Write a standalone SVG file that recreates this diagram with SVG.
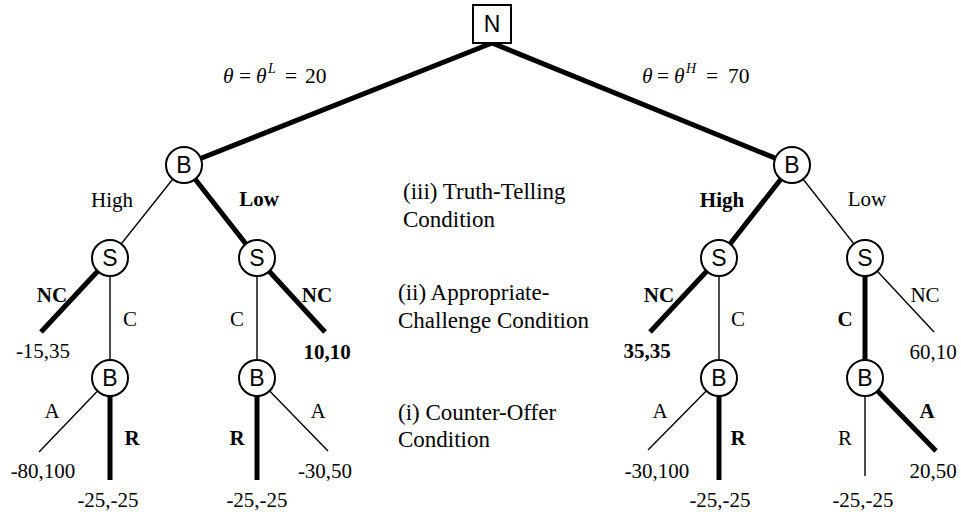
<svg xmlns="http://www.w3.org/2000/svg" width="961" height="512" viewBox="0 0 961 512">
<style>
.thick{stroke:#000;stroke-width:5;fill:none;stroke-linecap:butt}
.thin{stroke:#000;stroke-width:1.4;fill:none}
.node{fill:#fff;stroke:#000;stroke-width:2}
.nl{font-family:"Liberation Sans",Arial,sans-serif;font-size:23px;text-anchor:middle;fill:#000}
.lb{font-family:"Liberation Serif","Times New Roman",serif;font-size:21px;text-anchor:middle;fill:#000}
.b{font-weight:bold}
.cond{font-family:"Liberation Serif","Times New Roman",serif;font-size:23px;fill:#000}
.th{font-family:"Liberation Serif","Times New Roman",serif;font-size:21.5px;fill:#000}
</style>
<rect width="961" height="512" fill="#fff"/>
<g id="connectors">
<line class="thick" x1="492" y1="43" x2="184" y2="165"/>
<line class="thick" x1="492" y1="43" x2="792" y2="165"/>
<line class="thin" x1="184" y1="165" x2="110" y2="258"/>
<line class="thick" x1="184" y1="165" x2="257" y2="258"/>
<line class="thick" x1="792" y1="165" x2="719" y2="258"/>
<line class="thin" x1="792" y1="165" x2="865" y2="258"/>
<line class="thick" x1="110" y1="258" x2="41" y2="332"/>
<line class="thin" x1="110" y1="258" x2="110" y2="378"/>
<line class="thin" x1="257" y1="258" x2="257" y2="378"/>
<line class="thick" x1="257" y1="258" x2="325" y2="332"/>
<line class="thick" x1="719" y1="258" x2="650" y2="332"/>
<line class="thin" x1="719" y1="258" x2="719" y2="378"/>
<line class="thick" x1="865" y1="258" x2="865" y2="378"/>
<line class="thin" x1="865" y1="258" x2="934" y2="332"/>
<line class="thin" x1="110" y1="378" x2="39" y2="452"/>
<line class="thick" x1="110" y1="378" x2="110" y2="480"/>
<line class="thick" x1="257" y1="378" x2="257" y2="480"/>
<line class="thin" x1="257" y1="378" x2="328" y2="451"/>
<line class="thin" x1="719" y1="378" x2="648" y2="450"/>
<line class="thick" x1="719" y1="378" x2="719" y2="480"/>
<line class="thin" x1="865" y1="378" x2="865" y2="476"/>
<line class="thick" x1="865" y1="378" x2="936" y2="451"/>
</g>
<g id="N"><rect class="node" x="473" y="5" width="38" height="38"/><text class="nl" x="492" y="32">N</text></g>
<g id="B1"><circle class="node" cx="184" cy="165" r="18"/><text class="nl" x="184" y="173">B</text></g>
<g id="B2"><circle class="node" cx="792" cy="165" r="18"/><text class="nl" x="792" y="173">B</text></g>
<g id="S1"><circle class="node" cx="110" cy="258" r="18"/><text class="nl" x="110" y="266">S</text></g>
<g id="S2"><circle class="node" cx="257" cy="258" r="18"/><text class="nl" x="257" y="266">S</text></g>
<g id="S3"><circle class="node" cx="719" cy="258" r="18"/><text class="nl" x="719" y="266">S</text></g>
<g id="S4"><circle class="node" cx="865" cy="258" r="18"/><text class="nl" x="865" y="266">S</text></g>
<g id="B3"><circle class="node" cx="110" cy="378" r="18"/><text class="nl" x="110" y="386">B</text></g>
<g id="B4"><circle class="node" cx="257" cy="378" r="18"/><text class="nl" x="257" y="386">B</text></g>
<g id="B5"><circle class="node" cx="719" cy="378" r="18"/><text class="nl" x="719" y="386">B</text></g>
<g id="B6"><circle class="node" cx="865" cy="378" r="18"/><text class="nl" x="865" y="386">B</text></g>
<g id="theta-labels">
<text class="th" y="83"><tspan x="223" font-style="italic">θ</tspan><tspan x="239">=</tspan><tspan x="256" font-style="italic">θ</tspan><tspan x="268" y="73" font-size="14" font-style="italic">L</tspan><tspan x="285" y="83">=</tspan><tspan x="305">20</tspan></text>
<text class="th" y="83"><tspan x="642" font-style="italic">θ</tspan><tspan x="657">=</tspan><tspan x="674" font-style="italic">θ</tspan><tspan x="686" y="73" font-size="14" font-style="italic">H</tspan><tspan x="706" y="83">=</tspan><tspan x="728">70</tspan></text>
</g>
<g id="edge-labels">
<text class="lb" x="112" y="207">High</text>
<text class="lb b" x="259" y="206">Low</text>
<text class="lb b" x="722" y="207">High</text>
<text class="lb" x="867" y="206">Low</text>
<text class="lb b" x="52" y="302">NC</text>
<text class="lb" x="130" y="326">C</text>
<text class="lb" x="237" y="326">C</text>
<text class="lb b" x="317" y="302">NC</text>
<text class="lb b" x="659" y="302">NC</text>
<text class="lb" x="738" y="326">C</text>
<text class="lb b" x="845" y="326">C</text>
<text class="lb" x="925" y="302">NC</text>
<text class="lb" x="52" y="418">A</text>
<text class="lb b" x="132" y="445">R</text>
<text class="lb b" x="237" y="445">R</text>
<text class="lb" x="318" y="418">A</text>
<text class="lb" x="660" y="418">A</text>
<text class="lb b" x="738" y="445">R</text>
<text class="lb" x="845" y="445">R</text>
<text class="lb b" x="927" y="418">A</text>
</g>
<g id="payoffs">
<text class="lb" x="43" y="358">-15,35</text>
<text class="lb b" x="327" y="359">10,10</text>
<text class="lb b" x="647" y="358">35,35</text>
<text class="lb" x="933" y="359">60,10</text>
<text class="lb" x="43" y="478">-80,100</text>
<text class="lb" x="108" y="507">-25,-25</text>
<text class="lb" x="257" y="507">-25,-25</text>
<text class="lb" x="325" y="478">-30,50</text>
<text class="lb" x="657" y="478">-30,100</text>
<text class="lb" x="720" y="507">-25,-25</text>
<text class="lb" x="863" y="507">-25,-25</text>
<text class="lb" x="933" y="478">20,50</text>
</g>
<g id="conditions">
<text class="cond" x="403" y="199">(iii) Truth-Telling</text>
<text class="cond" x="403" y="227">Condition</text>
<text class="cond" x="398" y="300">(ii) Appropriate-</text>
<text class="cond" x="398" y="328">Challenge Condition</text>
<text class="cond" x="398" y="420">(i) Counter-Offer</text>
<text class="cond" x="398" y="447">Condition</text>
</g>
</svg>
